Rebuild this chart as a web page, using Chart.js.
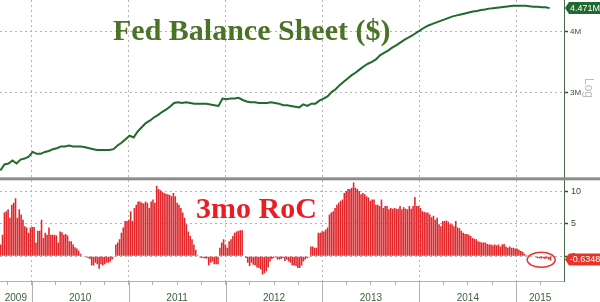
<!DOCTYPE html>
<html>
<head>
<meta charset="utf-8">
<script src="https://cdn.jsdelivr.net/npm/chart.js@4.4.1/dist/chart.umd.min.js"></script>
<style>
    html, body { margin: 0; padding: 0; background: #fff; }
    #wrap { position: relative; width: 600px; height: 302px; }
</style>
</head>
<body>
<div id="wrap"><canvas id="chart" width="600" height="302"></canvas></div>
<script>
// Fed balance sheet, $ millions, twice a month from Sep 2009
const lineStart = 2009.677;
const lineStep = 1 / 24;
const balanceSheet = [
    2.08, 2.14, 2.15, 2.18, 2.15, 2.19, 2.20, 2.22, 2.27, 2.25,
    2.25, 2.27, 2.28, 2.30, 2.31, 2.33, 2.33, 2.34, 2.33, 2.33,
    2.33, 2.32, 2.31, 2.30, 2.29, 2.29, 2.29, 2.29, 2.30, 2.34,
    2.37, 2.41, 2.45, 2.43, 2.50, 2.55, 2.60, 2.63, 2.67, 2.70,
    2.74, 2.77, 2.81, 2.86, 2.87, 2.86, 2.87, 2.86, 2.85, 2.85,
    2.85, 2.85, 2.84, 2.83, 2.82, 2.92, 2.91, 2.92, 2.92, 2.93,
    2.90, 2.88, 2.87, 2.87, 2.86, 2.86, 2.86, 2.87, 2.86, 2.85,
    2.83, 2.83, 2.82, 2.81, 2.80, 2.84, 2.82, 2.85, 2.85, 2.89,
    2.92, 2.95, 3.01, 3.05, 3.11, 3.16, 3.21, 3.26, 3.30, 3.35,
    3.40, 3.44, 3.47, 3.51, 3.58, 3.62, 3.66, 3.71, 3.75, 3.80,
    3.85, 3.89, 3.93, 3.98, 4.03, 4.08, 4.12, 4.15, 4.18, 4.21,
    4.24, 4.27, 4.30, 4.32, 4.34, 4.36, 4.38, 4.40, 4.41, 4.43,
    4.44, 4.46, 4.47, 4.48, 4.49, 4.50, 4.51, 4.52, 4.52, 4.52,
    4.52, 4.51, 4.50, 4.50, 4.49, 4.49, 4.471
];

// 3 month rate of change, %, weekly
const rocStart = 2009.68;
const rocStep = 7 / 365.25;
const roc = [
    1.8, 3.3, 6.7, 6.9, 7.2, 5.9, 7.9, 8.2, 8.9, 5.9,
    7.2, 6.4, 5.6, 4.6, 4.4, 3.6, 4.4, 4.5, 4.5, 2.1,
    3.9, 3.9, 5.6, 2.8, 3.6, 3.3, 4.4, 3.3, 3.3, 3.3,
    3.2, 2.1, 3.8, 3.7, 3.3, 3.4, 3.2, 2.3, 2.3, 1.8,
    1.4, 1.2, 0.9, 0.4, 0.1, -0.1, -0.15, -0.25, -0.4, -1.4,
    -1.4, -1.0, -1.2, -1.9, -1.2, -1.4, -1.2, -1.0, -1.0, -0.8,
    -0.5, -0.15, 1.8, 2.1, 2.6, 3.6, 4.4, 5.4, 5.4, 5.6,
    6.9, 5.4, 7.4, 7.9, 8.4, 8.4, 8.2, 8.1, 8.4, 8.2,
    7.4, 8.4, 8.7, 8.2, 10.8, 10.3, 10.1, 9.9, 9.7, 9.6,
    9.5, 9.4, 9.2, 9.7, 9.2, 8.2, 7.9, 7.4, 6.7, 5.9,
    4.9, 3.8, 3.1, 2.6, 1.8, 1.0, 0.15,
    -0.15, -0.25, -0.25, -0.35, -0.35, -1.4, -1.0, -0.8, -1.2, -1.2,
    -1.2, 1.3, 2.1, 2.6, 1.8, 1.3, 2.3, 2.6, 3.1, 3.6,
    3.8, 3.9, 4.0, 4.0, 0, -0.25, -1.0, -1.5, -1.0, -1.3,
    -1.4, -1.7, -1.8, -2.0, -2.8, -2.6, -2.3, -1.7, -0.8, -0.4,
    -0.25, -0.15, -0.5, -0.5, -0.4, -0.25, -0.7, -0.5, -0.8, -1.0,
    -1.4, -1.4, -1.5, -1.8, -1.8, -1.4, -0.8, -0.5, -0.25, -0.15,
    1.5, 1.5, 1.3, 1.3, 3.6, 3.6, 3.8, 3.8, 4.1, 4.4,
    6.4, 6.7, 6.9, 7.4, 7.9, 8.2, 8.5, 8.7, 9.7, 10.0,
    10.3, 10.3, 10.5, 11.3, 10.5, 10.3, 10.0, 9.5, 9.7, 9.5,
    9.2, 9.0, 8.5, 8.7, 8.7, 7.9, 7.9, 7.7, 8.7,
    7.4, 7.7, 7.7, 7.2,
    7.4, 7.3, 7.4, 7.3, 7.3, 7.7, 7.2, 7.5, 7.3, 7.2,
    7.7, 7.3, 7.7, 9.1, 7.7, 7.7, 7.4, 6.9, 6.8, 6.7,
    6.7, 6.4, 6.0, 6.2, 5.6, 5.9, 4.9, 4.6, 5.4, 5.4,
    5.5, 5.3, 4.9, 4.9, 4.6, 5.4, 4.4, 4.3, 3.9, 3.6,
    3.4, 3.4, 3.3, 3.1, 2.8, 2.7, 2.6, 2.3, 2.2, 2.1,
    2.1, 2.1, 1.9, 1.8, 1.8, 1.7, 1.8, 1.7, 1.8, 1.5,
    1.8, 1.9, 1.5, 1.3, 1.5, 1.3, 1.3, 1.2, 1.2, 1.0,
    0.8, 0.7, 0.4, 0.15, 0.05, -0.05, -0.05, -0.05, -0.15,
    -0.3, -0.3, -0.35, -0.3, -0.4, -0.3, -0.5, -0.6348
];

// Axes
const yearLabels = [2009, 2010, 2011, 2012, 2013, 2014, 2015];
const topTicks = [3, 4];
const bottomTicks = [0, 5, 10];
const X_MIN = 2009.673;
const X_MAX = 2015.492;

const FONT = '"Liberation Sans", Arial, sans-serif';
const GRID = '#b4b4b4';
const DOTS = [2, 3];

const linePoints = balanceSheet.map((v, i) => ({ x: lineStart + i * lineStep, y: v }));
const barPoints = roc.map((v, i) => ({ x: rocStart + i * rocStep, y: v }));

function noPadding(s) {
    s.paddingTop = 0;
    s.paddingBottom = 0;
    s.paddingLeft = 0;
    s.paddingRight = 0;
}

function drawTag(ctx, x, y, text, bg) {
    const h = 12, w = 32;
    ctx.fillStyle = bg;
    ctx.beginPath();
    ctx.moveTo(x, y);
    ctx.lineTo(x + 4, y - h / 2);
    ctx.lineTo(x + 4 + w, y - h / 2);
    ctx.lineTo(x + 4 + w, y + h / 2);
    ctx.lineTo(x + 4, y + h / 2);
    ctx.closePath();
    ctx.fill();
    ctx.fillStyle = '#fff';
    ctx.font = '9px ' + FONT;
    ctx.textAlign = 'center';
    ctx.textBaseline = 'middle';
    ctx.fillText(text, x + 4 + w / 2, y + 0.5);
}

// Titles, panel separator, year dividers, tags
const overlay = {
    id: 'overlay',
    afterDraw(chart) {
        const { ctx, chartArea: a, scales } = chart;
        const xs = scales.x, yt = scales.yTop, yb = scales.yBot;
        ctx.save();

        // panel separator
        ctx.fillStyle = '#8c8c8c';
        ctx.fillRect(0, yt.bottom - 1.5, chart.width, 3);

        // year dividers through the label row
        ctx.strokeStyle = '#a9b6a9';
        ctx.lineWidth = 1;
        yearLabels.forEach(y => {
            if (y <= xs.min || y >= xs.max) return;
            const px = Math.round(xs.getPixelForValue(y)) + 0.5;
            ctx.beginPath();
            ctx.moveTo(px, a.bottom);
            ctx.lineTo(px, chart.height);
            ctx.stroke();
        });

        // titles
        ctx.textAlign = 'left';
        ctx.textBaseline = 'alphabetic';
        ctx.font = 'bold 30px "Liberation Serif", "Times New Roman", serif';
        ctx.fillStyle = '#4a7326';
        ctx.fillText('Fed Balance Sheet ($)', 113, 40);
        ctx.fillStyle = '#ec1c24';
        ctx.fillText('3mo RoC', 196, 218);

        // "Log" axis note
        ctx.save();
        ctx.translate(a.right + 24, 88);
        ctx.rotate(Math.PI / 2);
        ctx.font = '12px ' + FONT;
        ctx.fillStyle = '#b5bfb5';
        ctx.textAlign = 'center';
        ctx.textBaseline = 'middle';
        ctx.fillText('Log', 0, 0);
        ctx.restore();

        // ring around the latest negative readings
        const n = roc.length;
        const cx = xs.getPixelForValue(barPoints[n - 6].x);
        const cy = yb.getPixelForValue(0) + 3.5;
        ctx.strokeStyle = '#e8332b';
        ctx.lineWidth = 1.5;
        ctx.beginPath();
        ctx.ellipse(cx, cy, 14, 7.5, 0, 0, Math.PI * 2);
        ctx.stroke();

        // last value tags
        const lastLine = balanceSheet[balanceSheet.length - 1];
        const lastRoc = roc[n - 1];
        drawTag(ctx, a.right + 1, yt.getPixelForValue(lastLine), lastLine.toFixed(3) + 'M', '#21692f');
        drawTag(ctx, a.right + 1, yb.getPixelForValue(lastRoc) - 1, lastRoc.toFixed(4), '#e8332b');

        ctx.restore();
    }
};

new Chart(document.getElementById('chart').getContext('2d'), {
    type: 'line',
    data: {
        datasets: [
            {
                type: 'line',
                data: linePoints,
                xAxisID: 'x',
                yAxisID: 'yTop',
                borderColor: '#1e6b2a',
                borderWidth: 2,
                pointRadius: 0,
                tension: 0
            },
            {
                type: 'bar',
                data: barPoints,
                xAxisID: 'x',
                yAxisID: 'yBot',
                backgroundColor: '#e2262a',
                barPercentage: 0.85,
                categoryPercentage: 1
            }
        ]
    },
    options: {
        responsive: false,
        animation: false,
        events: [],
        layout: { padding: 0 },
        plugins: {
            legend: { display: false },
            tooltip: { enabled: false }
        },
        scales: {
            x: {
                type: 'linear',
                position: 'bottom',
                min: X_MIN,
                max: X_MAX,
                offset: false,
                afterBuildTicks: s => {
                    const t = [];
                    for (let q = Math.ceil(s.min * 4); q <= Math.floor(s.max * 4); q++) t.push({ value: q / 4 });
                    s.ticks = t;
                },
                afterFit: s => { s.height = 4; noPadding(s); },
                ticks: { display: false },
                grid: {
                    offset: false,
                    color: c => Number.isInteger(c.tick.value) ? GRID : 'rgba(0,0,0,0)',
                    tickColor: '#a9b6a9',
                    tickLength: 4
                },
                border: { display: true, color: '#a9b6a9', dash: DOTS }
            },
            xl: {
                type: 'linear',
                position: 'bottom',
                min: X_MIN,
                max: X_MAX,
                offset: false,
                afterBuildTicks: s => {
                    s.ticks = yearLabels.map(y => ({ value: (Math.max(y, s.min) + Math.min(y + 1, s.max)) / 2 }));
                },
                afterFit: s => { s.height = 17; noPadding(s); },
                grid: { display: false, drawTicks: false },
                border: { display: false },
                ticks: {
                    autoSkip: false,
                    maxRotation: 0,
                    padding: 7,
                    color: '#3f603f',
                    font: { family: FONT, size: 10 },
                    callback: v => String(Math.floor(v))
                }
            },
            yTop: {
                type: 'logarithmic',
                position: 'right',
                stack: 'panels',
                stackWeight: 1.75,
                min: 2.0,
                max: 4.645,
                afterBuildTicks: s => { s.ticks = topTicks.map(v => ({ value: v })); },
                afterFit: s => { s.width = 36; noPadding(s); },
                ticks: {
                    padding: 2,
                    color: '#3a4a3a',
                    font: { family: FONT, size: 8 },
                    callback: v => v + 'M'
                },
                grid: { color: GRID, tickColor: '#2d5a2d', tickLength: 4, tickWidth: 1.5 },
                border: { display: true, color: '#4a6a4a', dash: DOTS }
            },
            yBot: {
                type: 'linear',
                position: 'right',
                stack: 'panels',
                stackWeight: 1,
                min: -3.78,
                max: 11.87,
                afterBuildTicks: s => { s.ticks = bottomTicks.map(v => ({ value: v })); },
                afterFit: s => { s.width = 36; noPadding(s); },
                ticks: {
                    padding: 3,
                    color: '#3a4a3a',
                    font: { family: FONT, size: 9 },
                    callback: v => String(v)
                },
                grid: { color: GRID, tickColor: '#2d5a2d', tickLength: 4, tickWidth: 1.5 },
                border: { display: true, color: '#4a6a4a', dash: DOTS }
            }
        }
    },
    plugins: [overlay]
});
</script>
</body>
</html>
